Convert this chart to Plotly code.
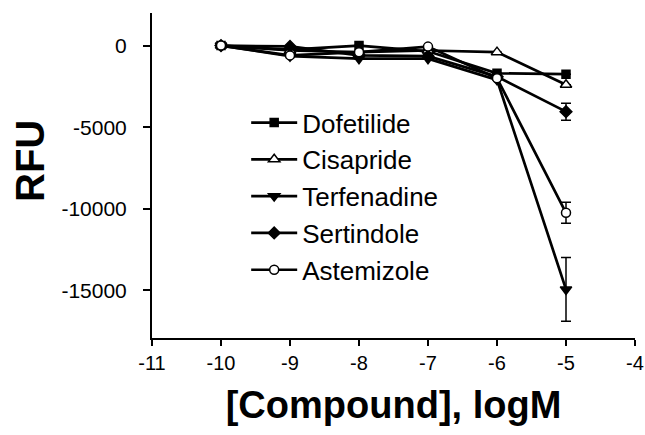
import plotly.graph_objects as go

log_conc = [-10, -9, -8, -7, -6, -5]

dofetilide = [0, -250, 0, -350, -1700, -1750]
cisapride = [0, -300, -400, -300, -400, -2400]
terfenadine = [0, -650, -800, -800, -2100, -14950]
sertindole = [0, -50, -600, -650, -1900, -4050]
astemizole = [0, -600, -400, -60, -2000, -10250]

dofetilide_err = [None, None, None, None, None, None]
cisapride_err = [None, None, None, None, None, None]
terfenadine_err = [None, None, None, None, None, 1950]
sertindole_err = [None, None, None, None, None, 520]
astemizole_err = [None, None, None, None, None, 650]

x_ticks = [-11, -10, -9, -8, -7, -6, -5, -4]
y_ticks = [0, -5000, -10000, -15000]

series = [
    ("Dofetilide", dofetilide, dofetilide_err, "square", "black", 8),
    ("Cisapride", cisapride, cisapride_err, "triangle-up", "white", 10),
    ("Terfenadine", terfenadine, terfenadine_err, "triangle-down", "black", 10),
    ("Sertindole", sertindole, sertindole_err, "diamond", "black", 9),
    ("Astemizole", astemizole, astemizole_err, "circle", "white", 9),
]

fig = go.Figure()
for name, vals, err, sym, fill, size in series:
    fig.add_trace(go.Scatter(
        x=log_conc, y=vals, name=name, mode="lines+markers",
        legendgroup=name,
        line=dict(color="black", width=2.7),
        marker=dict(symbol=sym, size=size, color=fill,
                    line=dict(color="black", width=1.5)),
        error_y=dict(type="data", array=err, symmetric=True,
                     color="black", thickness=1.5, width=5),
    ))

font_family = "Liberation Sans, Arial, sans-serif"
plot_w = 645 - 152 - 10
fig.update_layout(
    width=645, height=435,
    margin=dict(l=152, r=10, t=13, b=97, autoexpand=False),
    paper_bgcolor="white", plot_bgcolor="white",
    font=dict(family=font_family, color="black"),
    showlegend=True,
    legend=dict(
        x=0.195, y=0.735, xanchor="left", yanchor="top",
        bgcolor="rgba(0,0,0,0)", font=dict(size=26, family=font_family),
        itemwidth=46, tracegroupgap=0, traceorder="grouped",
    ),
    xaxis=dict(
        range=[-11, -4], tickvals=x_ticks, ticktext=[str(v) for v in x_ticks],
        showline=True, linecolor="black", linewidth=2,
        ticks="outside", ticklen=6, tickwidth=1.5, tickcolor="black",
        showgrid=False, zeroline=False, ticklabeloverflow="allow",
        automargin=False,
        tickfont=dict(size=20),
        title=dict(text="<b>[Compound], logM</b>", font=dict(size=38), standoff=18),
    ),
    yaxis=dict(
        range=[-17930, 2000], tickvals=y_ticks, ticktext=[str(v) for v in y_ticks],
        showline=True, linecolor="black", linewidth=2,
        ticks="outside", ticklen=7, tickwidth=1.5, tickcolor="black",
        showgrid=False, zeroline=False, ticklabelstandoff=12,
        automargin=False,
        tickfont=dict(size=21),
    ),
    annotations=[dict(
        text="<b>RFU</b>", xref="paper", yref="paper",
        x=(30 - 152) / plot_w, y=1 - (161 - 13) / 325,
        xanchor="center", yanchor="middle", textangle=-90,
        showarrow=False, font=dict(size=40, family=font_family),
    )],
)

fig.write_html("out.html")
